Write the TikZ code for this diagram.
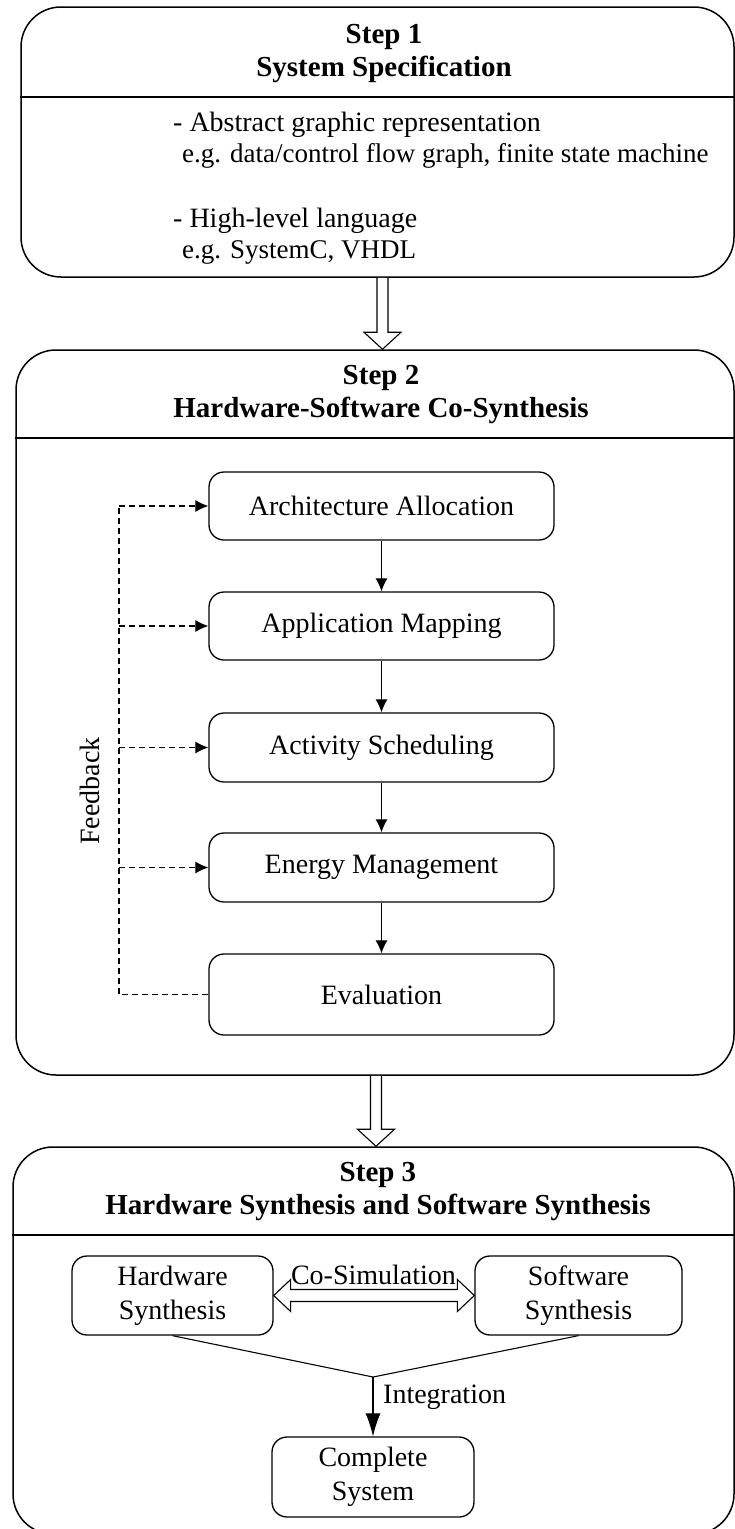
\documentclass[tikz,border=0pt]{standalone}
\usepackage{fontspec}
\setmainfont{Liberation Serif}
\usetikzlibrary{arrows.meta,calc}
\tikzset{
    stage/.style={rectangle,draw,rounded corners=40pt,line width=1.5pt,inner sep=0pt},
    task/.style={rectangle,draw,rounded corners=15pt,line width=1.3pt,align=center,inner sep=0pt,
        font=\fontsize{28}{34}\selectfont},
    title/.style={align=center,font=\bfseries\fontsize{29}{33}\selectfont},
    txt/.style={anchor=west,inner sep=0pt,font=\fontsize{28}{30}\selectfont},
    egtxt/.style={anchor=west,inner sep=0pt,font=\fontsize{27}{30}\selectfont},
    dedge/.style={->,>={Latex[length=13pt,width=12pt]},line width=1.1pt},
    bigedge/.style={->,>={Latex[length=23pt,width=15pt]},line width=1.1pt},
    fedge/.style={->,>={Latex[length=13pt,width=12pt]},dash pattern=on 6pt off 4pt,line width=1.1pt},
    fline/.style={dash pattern=on 6pt off 4pt,line width=1.1pt},
    bigarrow/.style={draw,fill=white,line width=1.1pt},
}
% open block arrow, straight down from #1 to #2
\newcommand\steparrow[2]{%
    \path[bigarrow] let \p1=#1, \p2=#2 in
        (\x1-5.5pt,\y1) -- (\x1-5.5pt,\y2+17pt) -- (\x1-18.5pt,\y2+17pt) -- (\x1,\y2)
        -- (\x1+18.5pt,\y2+17pt) -- (\x1+5.5pt,\y2+17pt) -- (\x1+5.5pt,\y1);}

\begin{document}
\begin{tikzpicture}[x=1pt,y=-1pt]
    \useasboundingbox (0,0) rectangle (735,1529);

    % Step 1
    \node[stage,minimum width=713,minimum height=270] (s1) at (377.5,142) {};
    \node[title] (t1) at (384,53.5) {Step 1\\System Specification};
    \coordinate (d1) at (0,97);
    \draw[line width=1.5pt] (s1.west |- d1) -- (s1.east |- d1);
    \node[txt] (b1) at (173,125) {- Abstract graphic representation};
    \node[egtxt] (e1) at (182,156) {e.g. data/control flow graph, finite state machine};
    \node[txt] (b2) at (173,221) {- High-level language};
    \node[egtxt] (e2) at (182,252) {e.g. SystemC, VHDL};

    % Step 2
    \node[stage,minimum width=718,minimum height=725] (s2) at (375,712.5) {};
    \node[title] (t2) at (381,394.5) {Step 2\\Hardware-Software Co-Synthesis};
    \coordinate (d2) at (0,438);
    \draw[line width=1.5pt] (s2.west |- d2) -- (s2.east |- d2);

    \node[task,minimum width=345,minimum height=68] (arch) at (381.5,506) {Architecture Allocation};
    \node[task,minimum width=345,minimum height=68] (app) at (381.5,626) {Application Mapping};
    \node[task,minimum width=345,minimum height=69] (act) at (381.5,747.5) {Activity Scheduling};
    \node[task,minimum width=345,minimum height=69] (energy) at (381.5,867.5) {Energy Management};
    \node[task,minimum width=345,minimum height=81] (eval) at (381.5,994.5) {Evaluation};
    \draw[dedge] (arch) -- (app);
    \draw[dedge] (app) -- (act);
    \draw[dedge] (act) -- (energy);
    \draw[dedge] (energy) -- (eval);

    \coordinate (fb) at (119,506);
    \draw[fline] (eval.west) -| (fb);
    \foreach \n in {arch,app,act,energy}
        \draw[fedge] (fb |- \n.west) -- (\n.west);
    \node[rotate=90,font=\fontsize{28}{30}\selectfont] (fbl) at (90,791) {Feedback};

    % Step 3
    \node[stage,minimum width=721,minimum height=387] (s3) at (373.5,1340.5) {};
    \node[title] (t3) at (378,1192) {Step 3\\Hardware Synthesis and Software Synthesis};
    \coordinate (d3) at (0,1235);
    \draw[line width=1.5pt] (s3.west |- d3) -- (s3.east |- d3);

    \node[task,minimum width=201,minimum height=79] (hw) at (172.5,1295.5) {Hardware\\Synthesis};
    \node[task,minimum width=207,minimum height=79] (sw) at (578.5,1295.5) {Software\\Synthesis};
    \node[task,minimum width=202,minimum height=80] (cs) at (373,1477) {Complete\\System};
    \node[font=\fontsize{28}{30}\selectfont,inner sep=0pt] (cosim) at (373.5,1275) {Co-Simulation};
    \path[bigarrow] let \p1=(hw.east), \p2=(sw.west) in
        (\x1,\y1) -- (\x1+17pt,\y1+16pt) -- (\x1+17pt,\y1+6pt) -- (\x2-17pt,\y1+6pt)
        -- (\x2-17pt,\y1+16pt) -- (\x2,\y1) -- (\x2-17pt,\y1-16pt) -- (\x2-17pt,\y1-6pt)
        -- (\x1+17pt,\y1-6pt) -- (\x1+17pt,\y1-16pt) -- cycle;
    \coordinate (jn) at (373,1377);
    \draw[line width=1.1pt] (hw.south) -- (jn) -- (sw.south);
    \draw[bigedge] (jn) -- (cs.north);
    \node[txt] (intg) at (383,1397) {Integration};

    % block arrows between the steps
    \coordinate (a1) at (382.5,0);
    \coordinate (a2) at (376,0);
    \steparrow{(s1.south -| a1)}{(s2.north -| a1)}
    \steparrow{(s2.south -| a2)}{(s3.north -| a2)}
\end{tikzpicture}
\end{document}
